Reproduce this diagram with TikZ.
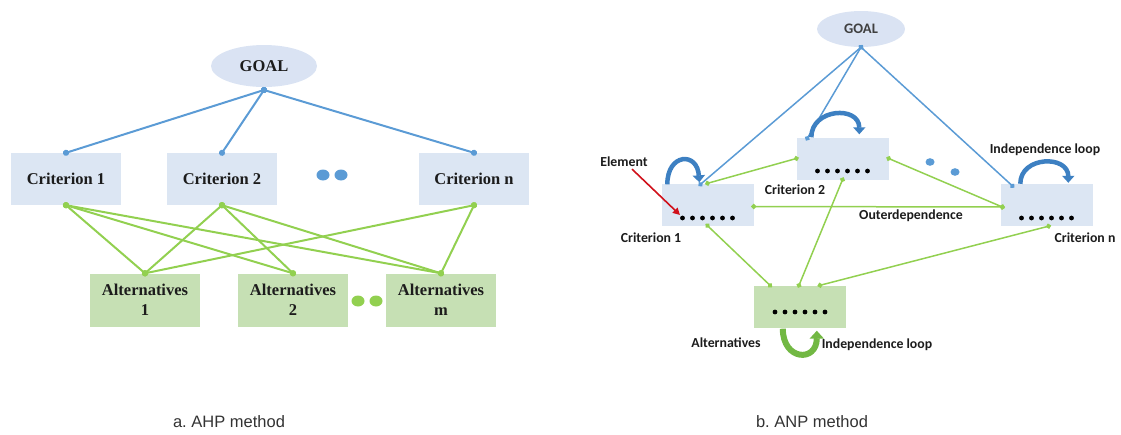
\documentclass[tikz,border=0pt]{standalone}
\usepackage{fontspec}
\setmainfont{Liberation Serif}
\newfontfamily\calib{Carlito}
\newfontfamily\arialf{Liberation Sans}
\usetikzlibrary{arrows.meta,shapes.geometric,calc}
\frenchspacing

\definecolor{boxblue}{HTML}{DCE6F3}
\definecolor{ellblue}{HTML}{DAE3F3}
\definecolor{boxgreen}{HTML}{C6E0B4}
\definecolor{lineblue}{HTML}{5B9BD5}
\definecolor{linegreen}{HTML}{92D050}
\definecolor{loopblue}{HTML}{3D80C2}
\definecolor{loopgreen}{HTML}{72B843}
\definecolor{arrowred}{HTML}{D0101A}
\definecolor{txt}{HTML}{1C1C1C}
\definecolor{captxt}{HTML}{333333}

\tikzset{
  % left (AHP) panel
  critA/.style={rectangle, fill=boxblue, minimum width=110pt, minimum height=52pt,
    inner sep=0pt, text=txt, font=\fontsize{16.5}{20}\selectfont\bfseries},
  altA/.style={critA, fill=boxgreen, minimum height=53pt, align=center},
  goalA/.style={ellipse, fill=ellblue, minimum width=106pt, minimum height=42pt,
    inner sep=0pt, text=txt, font=\fontsize{16.5}{20}\selectfont\bfseries},
  blA/.style={draw=lineblue, line width=2pt, {Circle[length=6pt]}-{Circle[length=6pt]},
    shorten <=-3pt, shorten >=-3pt},
  glA/.style={blA, draw=linegreen, fill=linegreen},
  % right (ANP) panel
  critB/.style={rectangle, fill=boxblue, minimum width=92pt, minimum height=42pt, inner sep=0pt},
  altB/.style={critB, fill=boxgreen},
  goalB/.style={ellipse, fill=ellblue, minimum width=88pt, minimum height=36pt,
    inner sep=0pt, text=black!75, font=\calib\fontsize{14.5}{16}\selectfont\bfseries},
  lbl/.style={inner sep=0pt, text=txt, font=\calib\fontsize{13.8}{16}\selectfont\bfseries},
  blB/.style={draw=lineblue, fill=lineblue, line width=1.5pt, {Circle[length=5pt]}-{Circle[length=5pt]},
    shorten <=-2.5pt, shorten >=-2.5pt},
  glB/.style={blB, draw=linegreen, fill=linegreen},
  loopb/.style={draw=loopblue, line width=4.5pt, -{Triangle[width=12pt,length=7pt]}},
  loopg/.style={draw=loopgreen, line width=6pt, -{Triangle[width=14pt,length=8pt]}},
  caption/.style={inner sep=0pt, text=captxt, font=\arialf\fontsize{16.5}{18}\selectfont},
}

\begin{document}
\begin{tikzpicture}[x=1pt,y=-1pt]
\useasboundingbox (0,0) rectangle (1121,434);

% ---------------- AHP hierarchy ----------------
\node[goalA] (goalA) at (264,66) {GOAL};
\coordinate (gA) at (264,90);

\node[critA] (ca1) at (66,179)  {Criterion 1};
\node[critA] (ca2) at (222,179) {Criterion 2};
\node[critA] (can) at (474,179) {Criterion n};

\node[altA] (aa1) at (145,300) {Alternatives\\1};
\node[altA] (aa2) at (293,300) {Alternatives\\2};
\node[altA] (aam) at (441,300) {Alternatives\\m};

\fill[lineblue] (323,175) ellipse (6.5pt and 5.5pt);
\fill[lineblue] (341,175) ellipse (6.5pt and 5.5pt);
\fill[linegreen] (358,301) ellipse (6.5pt and 5.5pt);
\fill[linegreen] (376,301) ellipse (6.5pt and 5.5pt);

\foreach \c in {ca1,ca2,can}
  \draw[blA] (gA) -- (\c.north);

\foreach \a in {aa1,aa2,aam} {
  \draw[glA] (ca1.south) -- (\a.north);
  \draw[glA] (ca2.south) -- (\a.north);
}
\draw[glA] (can.south) -- (aa1.north);
\draw[glA] (can.south) -- (aam.north);

\node[caption] (capA) at (229,422) {a. AHP method};

% ---------------- ANP network ----------------
\node[goalB] (goalB) at (861,29) {GOAL};

\node[critB] (rc1) at (707.5,204.5) {};
\node[critB] (rc2) at (842.5,158.5) {};
\node[critB] (rcn) at (1046.5,205) {};
\node[altB]  (ralt) at (800,306.5) {};

% elements inside each cluster
\foreach \n/\dy in {rc1/13.5, rc2/12.5, rcn/13, ralt/5.5}
  \foreach \i in {0,...,5}
    \fill[black] ($(\n.center)+(\i*10-25,\dy)$) circle (2.4pt);

% goal links
\draw[blB] (goalB.south) -- ($(rc1.north)+(-7,1)$);
\draw[blB] (goalB.south) -- ($(rc2.north west)+(11,1)$);
\draw[blB] (goalB.south) -- ($(rcn.north west)+(12,2)$);

% dependencies between clusters
\draw[glB] (rc2.west) -- (rc1.north);
\draw[glB] (rc2.east) -- ($(rcn.west)+(2,2)$);
\draw[glB] ($(rc1.east)+(0,2)$) -- ($(rcn.west)+(2,2)$);
\draw[glB] (rc2.south) -- ($(ralt.north)+(-1,0)$);
\draw[glB] (rc1.south) -- ($(ralt.north)+(-30,0)$);
\draw[glB] ($(rcn.south)+(2,0)$) -- ($(ralt.north)+(20,0)$);

% independence loops
\draw[loopb] ($(rc1.north west)+(6,1)$) .. controls +(0,-31) and +(-2,-31) .. ($(rc1.north west)+(38,-1)$);
\draw[loopb] ($(rc2.north west)+(15,0)$) .. controls +(0,-29) and +(0,-29) .. ($(rc2.north west)+(63,-3)$);
\draw[loopb] ($(rcn.north west)+(20,0)$) .. controls +(0,-28) and +(0,-28) .. ($(rcn.north west)+(68,-1)$);
\draw[loopg] ($(ralt.south west)+(29,1)$) .. controls +(0,32) and +(0,32) .. ($(ralt.south west)+(63,3)$);

\fill[lineblue] (930,162) ellipse (4.5pt and 3.8pt);
\fill[lineblue] (955,172) ellipse (4.5pt and 3.8pt);

% labels
\node[lbl] (elem) at (624,162) {Element};
\coordinate (elemtip) at (680,215);
\draw[draw=arrowred, line width=1.6pt, -{Triangle[width=7pt,length=7pt]}] ($(elem.south)+(8,2)$) -- (elemtip);

\node[lbl] (lc1) at (651,238) {Criterion 1};
\node[lbl] (lc2) at (795,190) {Criterion 2};
\node[lbl] (lcn) at (1085,238) {Criterion n};
\node[lbl] (lil) at (1045,150) {Independence loop};
\node[lbl] (lout) at (911,216) {Outerdependence};
\node[lbl] (lalt) at (726,343) {Alternatives};
\node[lbl] (lil2) at (877,345) {Independence loop};

\node[caption] (capB) at (812,422) {b. ANP method};
\end{tikzpicture}
\end{document}
